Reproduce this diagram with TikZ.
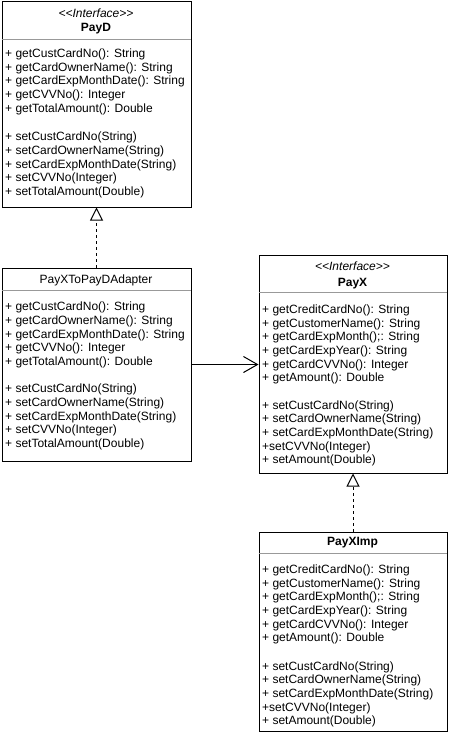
\documentclass[tikz,border=0pt]{standalone}
\usepackage{fontspec}
\setmainfont{Liberation Sans}
\usetikzlibrary{arrows.meta}

\definecolor{sepgray}{RGB}{153,153,153}
\newcommand{\stereotype}{\textit{<\kern0pt<Interface>\kern0pt>}}

\tikzset{
  classbox/.style={draw, line width=1pt, anchor=north west, inner sep=0pt},
  member/.style={anchor=north west, inner sep=0pt, align=left, font=\fontsize{12}{13.7}\selectfont},
  title/.style={anchor=base, inner sep=0pt, font=\fontsize{12}{14}\selectfont},
  divider/.style={draw=sepgray, line width=1pt},
  realize/.style={line width=1pt, dash pattern=on 3pt off 3pt, -{Triangle[open, length=13pt, width=13pt]}},
  assoc/.style={line width=1pt, -{Straight Barb[length=14pt, width=16pt]}}
}

\begin{document}
\begin{tikzpicture}[x=1pt, y=-1pt]
        \useasboundingbox (0,0) rectangle (449,733);

        % PayD
        \node[classbox, minimum width=189pt, minimum height=205pt] (payd) at (1.5,1.5) {};
        \draw[divider] (1.5,39.5) to (190.5,39.5);
        \node[title] (payd-stereo) at (96,18) {\stereotype};
        \node[title] (payd-name) at (96,32) {\textbf{PayD}};
        \node[member] (payd-get) at (5,48.5) {+ getCustCardNo(): String\\
            + getCardOwnerName(): String\\
            + getCardExpMonthDate(): String\\
            + getCVVNo(): Integer\\
            + getTotalAmount(): Double};
        \node[member] (payd-set) at (5,131.9) {+ setCustCardNo(String)\\
            + setCardOwnerName(String)\\
            + setCardExpMonthDate(String)\\
            + setCVVNo(Integer)\\
            + setTotalAmount(Double)};

        % PayXToPayDAdapter
        \node[classbox, minimum width=189pt, minimum height=193pt] (adapter) at (1.5,267.5) {};
        \draw[divider] (1.5,290.5) to (190.5,290.5);
        \node[title] (adapter-name) at (96,283) {PayXToPayDAdapter};
        \node[member] (adapter-get) at (5,301.8) {+ getCustCardNo(): String\\
            + getCardOwnerName(): String\\
            + getCardExpMonthDate(): String\\
            + getCVVNo(): Integer\\
            + getTotalAmount(): Double};
        \node[member] (adapter-set) at (5,384) {+ setCustCardNo(String)\\
            + setCardOwnerName(String)\\
            + setCardExpMonthDate(String)\\
            + setCVVNo(Integer)\\
            + setTotalAmount(Double)};

        % PayX
        \node[classbox, minimum width=188pt, minimum height=218pt] (payx) at (258.5,254.5) {};
        \draw[divider] (258.5,292.5) to (446.5,292.5);
        \node[title] (payx-stereo) at (352.5,270) {\stereotype};
        \node[title] (payx-name) at (352.5,286.5) {\textbf{PayX}};
        \node[member] (payx-get) at (262,304.5) {+ getCreditCardNo(): String\\
            + getCustomerName(): String\\
            + getCardExpMonth();: String\\
            + getCardExpYear(): String\\
            + getCardCVVNo(): Integer\\
            + getAmount(): Double};
        \node[member] (payx-set) at (262,400.1) {+ setCustCardNo(String)\\
            + setCardOwnerName(String)\\
            + setCardExpMonthDate(String)\\
            +setCVVNo(Integer)\\
            + setAmount(Double)};

        % PayXImp
        \node[classbox, minimum width=188pt, minimum height=199pt] (payximp) at (258.5,531.5) {};
        \draw[divider] (258.5,553.5) to (446.5,553.5);
        \node[title] (payximp-name) at (352.5,545) {\textbf{PayXImp}};
        \node[member] (payximp-get) at (262,564.5) {+ getCreditCardNo(): String\\
            + getCustomerName(): String\\
            + getCardExpMonth();: String\\
            + getCardExpYear(): String\\
            + getCardCVVNo(): Integer\\
            + getAmount(): Double};
        \node[member] (payximp-set) at (262,661.1) {+ setCustCardNo(String)\\
            + setCardOwnerName(String)\\
            + setCardExpMonthDate(String)\\
            +setCVVNo(Integer)\\
            + setAmount(Double)};

        % connectors
        \draw[realize] (adapter.north) -- (payd.south);
        \draw[realize] (payximp.north) -- (payx.south);
        \draw[assoc] (adapter.east) -- (adapter.east -| payx.west);

    \end{tikzpicture}
\end{document}
